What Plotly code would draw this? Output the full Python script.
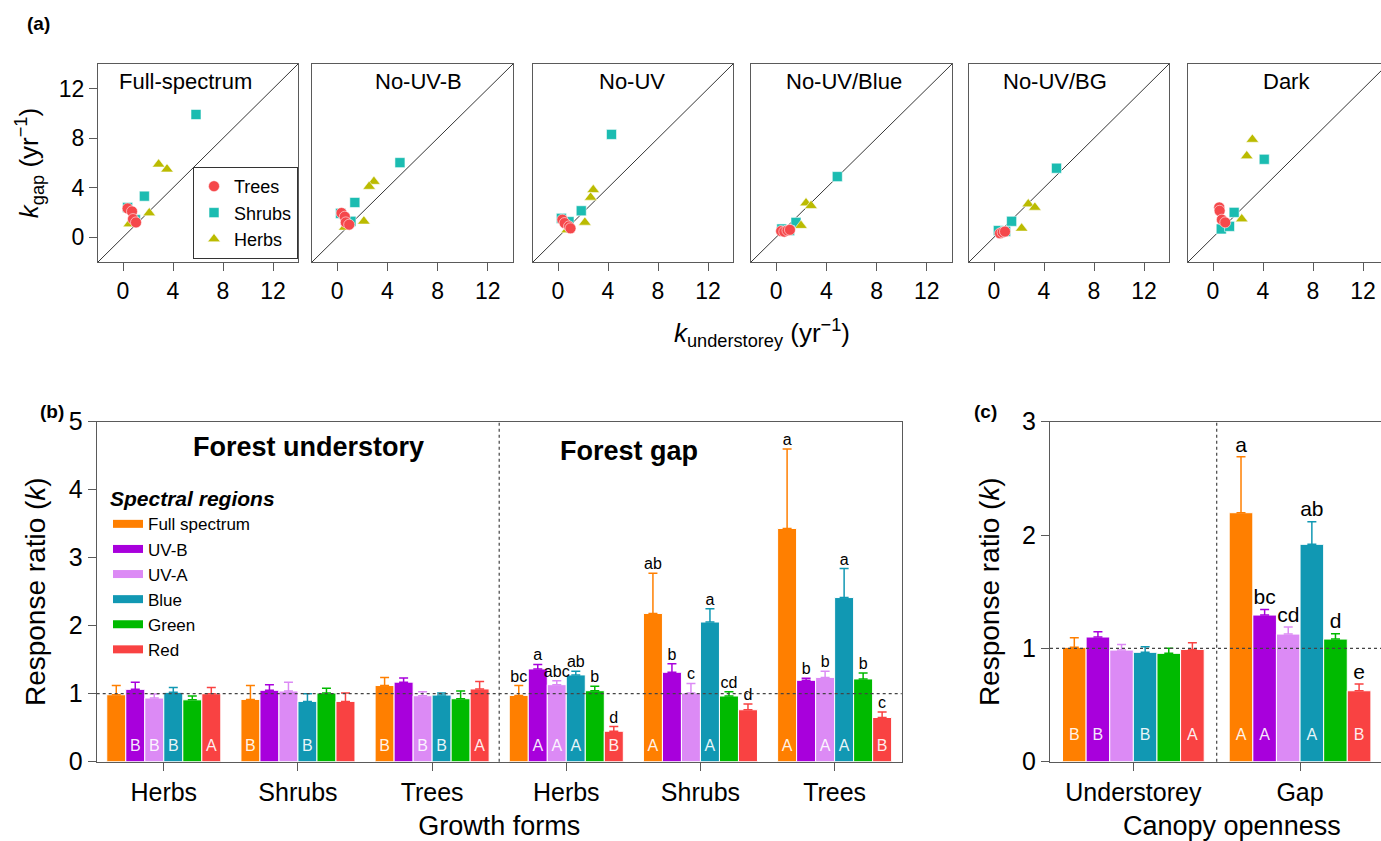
import plotly.graph_objects as go

W, H = 1381, 841
FONT = "Liberation Sans, Arial, sans-serif"

# ---------------- Panel (a) data: decomposition constants k (yr^-1) ----------------
TREATMENTS = ["Full-spectrum", "No-UV-B", "No-UV", "No-UV/Blue", "No-UV/BG", "Dark"]

trees_under = [[0.37, 0.72, 0.80, 1.04], [0.35, 0.61, 0.69, 0.96], [0.35, 0.53, 0.88, 1.00],
               [0.40, 0.65, 0.90, 1.10], [0.48, 0.69, 0.88], [0.50, 0.53, 0.71, 0.98]]
trees_gap = [[2.33, 2.09, 1.47, 1.20], [1.96, 1.66, 1.20, 1.02], [1.42, 1.15, 0.88, 0.72],
             [0.50, 0.45, 0.55, 0.60], [0.32, 0.40, 0.46], [2.41, 2.14, 1.42, 1.20]]
shrubs_under = [[5.84, 1.71, 0.37, 0.99], [5.00, 1.41, 0.27, 1.10], [4.28, 1.86, 0.27, 0.88],
                [4.87, 1.58, 0.45, 1.07], [5.00, 1.41, 0.35, 0.93], [4.10, 1.69, 0.66, 1.32]]
shrubs_gap = [[9.92, 3.32, 2.41, 1.42], [6.03, 2.81, 1.93, 1.29], [8.31, 2.14, 1.53, 1.26],
              [4.90, 1.20, 0.67, 0.54], [5.58, 1.29, 0.54, 0.48], [6.30, 2.01, 0.67, 0.88]]
herbs_under = [[2.85, 3.52, 2.10, 0.50], [2.93, 2.55, 2.13, 0.61], [2.82, 2.61, 2.15, 0.74],
               [2.38, 2.78, 1.98], [2.74, 3.27, 2.21], [3.15, 2.70, 2.30]]
herbs_gap = [[5.90, 5.50, 1.96, 1.07], [4.50, 4.10, 1.29, 0.80], [3.83, 3.22, 1.20, 0.59],
             [2.76, 2.55, 0.94], [2.68, 2.41, 0.72], [7.90, 6.57, 1.47]]
A_TICKS = [0, 4, 8, 12]
title_pos_x = [5.0, 6.5, 5.9, 5.4, 4.9, 5.9]

# ---------------- Panel (b) data: response ratios by growth form ----------------
GROWTH_FORMS = ["Herbs", "Shrubs", "Trees", "Herbs", "Shrubs", "Trees"]
REGIONS = ["Full spectrum", "UV-B", "UV-A", "Blue", "Green", "Red"]
COLORS = ["#FF7F00", "#A800DC", "#DC8AF5", "#1198B3", "#00BA00", "#F94242"]

b_full = [0.985, 0.916, 1.12, 0.975, 2.18, 3.43]
b_uvb = [1.064, 1.05, 1.17, 1.364, 1.315, 1.197]
b_uva = [0.936, 1.04, 0.97, 1.133, 1.01, 1.24]
b_blue = [1.02, 0.887, 0.98, 1.276, 2.054, 2.414]
b_green = [0.91, 1.01, 0.926, 1.044, 0.966, 1.217]
b_red = [1.0, 0.887, 1.07, 0.448, 0.764, 0.65]

b_full_up = [1.12, 1.12, 1.24, 1.12, 2.77, 4.60]
b_uvb_up = [1.17, 1.13, 1.23, 1.43, 1.44, 1.227]
b_uva_up = [0.995, 1.17, 1.03, 1.19, 1.15, 1.33]
b_blue_up = [1.09, 1.0, 1.01, 1.33, 2.25, 2.84]
b_green_up = [0.965, 1.08, 1.04, 1.11, 1.03, 1.305]
b_red_up = [1.09, 1.01, 1.18, 0.517, 0.847, 0.73]

b_letters = [["", "", "", "bc", "ab", "a"], ["", "", "", "a", "b", "b"],
             ["", "", "", "abc", "c", "b"], ["", "", "", "ab", "a", "a"],
             ["", "", "", "b", "cd", "b"], ["", "", "", "d", "d", "c"]]
b_inside = [["", "B", "B", "", "A", "A"], ["B", "", "", "A", "", ""],
            ["B", "", "B", "A", "", "A"], ["B", "B", "B", "A", "A", "A"],
            ["", "", "", "", "", ""], ["A", "", "A", "B", "", "B"]]

# ---------------- Panel (c) data: response ratios by canopy openness ----------------
CANOPY = ["Understorey", "Gap"]
c_full = [1.009, 2.197]
c_uvb = [1.10, 1.294]
c_uva = [0.985, 1.126]
c_blue = [0.965, 1.918]
c_green = [0.956, 1.082]
c_red = [0.991, 0.626]

c_full_up = [1.094, 2.69]
c_uvb_up = [1.147, 1.344]
c_uva_up = [1.035, 1.188]
c_blue_up = [1.015, 2.118]
c_green_up = [1.0, 1.129]
c_red_up = [1.05, 0.685]

c_letters = [["", "a"], ["", "bc"], ["", "cd"], ["", "ab"], ["", "d"], ["", "e"]]
c_inside = [["B", "A"], ["B", "A"], ["", ""], ["B", "A"], ["", ""], ["A", "B"]]

b_means = [b_full, b_uvb, b_uva, b_blue, b_green, b_red]
b_uppers = [b_full_up, b_uvb_up, b_uva_up, b_blue_up, b_green_up, b_red_up]
c_means = [c_full, c_uvb, c_uva, c_blue, c_green, c_red]
c_uppers = [c_full_up, c_uvb_up, c_uva_up, c_blue_up, c_green_up, c_red_up]

BARGAP = 0.15


def fx(p):
    return p / W


def fy(p):
    return 1 - p / H


fig = go.Figure()
layout = dict(template="none", width=W, height=H,
              margin=dict(l=0, r=0, t=0, b=0, autoexpand=False),
              paper_bgcolor="white", plot_bgcolor="white",
              font=dict(family=FONT, color="black"),
              barmode="group", bargap=BARGAP, bargroupgap=0)

AX_LINE = "#5a5a5a"


def base_axis(**kw):
    d = dict(showline=True, linecolor=AX_LINE, linewidth=1.2, mirror=True,
             ticks="outside", ticklen=8, tickcolor=AX_LINE, tickwidth=1.2,
             showgrid=False, zeroline=False, automargin=False, tickfont=dict(size=23))
    d.update(kw)
    return d


# ---------------- Panel (a) ----------------
a_dom_x = [(98, 298), (312, 513), (533, 733), (751, 952), (969, 1169), (1188, 1381)]
a_dom_y = (64, 262)
shapes = []
annotations = []
groups_a = [
    ("Shrubs", shrubs_under, shrubs_gap, "square", 10, "#1BBCB1", 2),
    ("Herbs", herbs_under, herbs_gap, "triangle-up", 11, "#BBBB00", 3),
    ("Trees", trees_under, trees_gap, "circle", 11, "#F5484B", 1),
]
for i, tname in enumerate(TREATMENTS):
    n = i + 1
    xa = "x" if n == 1 else f"x{n}"
    ya = "y" if n == 1 else f"y{n}"
    xkey = "xaxis" if n == 1 else f"xaxis{n}"
    ykey = "yaxis" if n == 1 else f"yaxis{n}"
    x0p, x1p = a_dom_x[i]
    xmax = -2 + (x1p - x0p) / 12.5
    layout[xkey] = base_axis(domain=[fx(x0p), fx(x1p)], anchor=ya, range=[-2, min(14, xmax)],
                             tickvals=A_TICKS)
    yax = base_axis(domain=[fy(a_dom_y[1]), fy(a_dom_y[0])], anchor=xa, range=[-2, 14],
                    tickvals=A_TICKS, mirror=(n != 6))
    if n == 1:
        yax["title"] = dict(text="<i>k</i><sub>gap</sub> (yr<sup>−1</sup>)",
                            font=dict(size=26), standoff=12)
    else:
        yax["showticklabels"] = False
        yax["ticks"] = ""
    layout[ykey] = yax
    shapes.append(dict(type="line", xref=xa, yref=ya, x0=-2, y0=-2, x1=14, y1=14,
                       line=dict(color="black", width=0.8), layer="below"))
    annotations.append(dict(text=tname, xref=xa, yref=ya, x=title_pos_x[i], y=12.6,
                            showarrow=False, font=dict(size=22), xanchor="center",
                            yanchor="middle"))
    for gname, gu, gg, sym, size, col, rank in groups_a:
        fig.add_trace(go.Scatter(
            x=gu[i], y=gg[i], mode="markers", name=gname, xaxis=xa, yaxis=ya,
            marker=dict(symbol=sym, size=size, color=col,
                        line=dict(color="rgba(255,255,255,0.55)", width=1)),
            legend="legend", legendrank=rank, showlegend=(n == 1), legendgroup=gname))

annotations.append(dict(text="<i>k</i><sub>understorey</sub> (yr<sup>−1</sup>)",
                        xref="paper", yref="paper", x=fx(762), y=fy(333), showarrow=False,
                        font=dict(size=26), xanchor="center", yanchor="middle"))

# ---------------- Panel (b) & (c) ----------------
panel_specs = [
    ("x7", "y7", GROWTH_FORMS, b_means, b_uppers, b_letters, b_inside, 0.21, 16),
    ("x8", "y8", CANOPY, c_means, c_uppers, c_letters, c_inside, 0.227, 21),
]
bar_w = (1 - BARGAP) / len(REGIONS)
for (xa, ya, cats, means, uppers, letters, inside, in_y, let_size) in panel_specs:
    ng = len(cats)
    xs = list(range(ng))
    for k, reg in enumerate(REGIONS):
        m = means[k]
        u = uppers[k]
        fig.add_trace(go.Bar(
            x=xs, y=m, name=reg, xaxis=xa, yaxis=ya, marker=dict(color=COLORS[k],
            line=dict(color="white", width=1)), showlegend=False, legendgroup=reg,
            error_y=dict(type="data", symmetric=False, array=[a - b for a, b in zip(u, m)],
                         arrayminus=[0] * ng, color=COLORS[k], thickness=1.5, width=4.5)))
        offs = [g + (k - (len(REGIONS) - 1) / 2) * bar_w for g in xs]
        top_idx = [j for j in xs if letters[k][j]]
        if top_idx:
            fig.add_trace(go.Scatter(
                x=[offs[j] for j in top_idx], y=[u[j] for j in top_idx],
                text=[letters[k][j] for j in top_idx], mode="text", textposition="top center",
                textfont=dict(size=let_size, color="black"), xaxis=xa, yaxis=ya,
                showlegend=False, hoverinfo="skip", cliponaxis=False))
        in_idx = [j for j in xs if inside[k][j]]
        if in_idx:
            fig.add_trace(go.Scatter(
                x=[offs[j] for j in in_idx], y=[in_y] * len(in_idx),
                text=[inside[k][j] for j in in_idx], mode="text", textposition="middle center",
                textfont=dict(size=16, color="rgba(255,255,255,0.92)"), xaxis=xa, yaxis=ya,
                showlegend=False, hoverinfo="skip"))
    # reference line at ratio 1 and divider between canopy conditions
    shapes.append(dict(type="line", xref=f"{xa} domain", yref=ya, x0=0, x1=1, y0=1, y1=1,
                       line=dict(color="#444", width=1.2, dash="dot")))
    shapes.append(dict(type="line", xref=xa, yref=f"{ya} domain", x0=(ng - 1) / 2,
                       x1=(ng - 1) / 2, y0=0, y1=1,
                       line=dict(color="#444", width=1.2, dash="dot")))

# legend entries for spectral regions
for k, reg in enumerate(REGIONS):
    fig.add_trace(go.Scatter(x=[None], y=[None], mode="lines", name=reg, xaxis="x7", yaxis="y7",
                             line=dict(color=COLORS[k], width=8), legend="legend2",
                             legendgroup=reg, showlegend=True))

layout["xaxis7"] = base_axis(domain=[fx(96.7), fx(901.7)], anchor="y7", range=[-0.5, 5.5],
                             tickvals=list(range(6)), ticktext=GROWTH_FORMS,
                             tickfont=dict(size=25),
                             title=dict(text="Growth forms", font=dict(size=27), standoff=14))
layout["yaxis7"] = base_axis(domain=[fy(761.7), fy(421.7)], anchor="x7", range=[0, 5],
                             tickvals=[0, 1, 2, 3, 4, 5], tickfont=dict(size=25),
                             title=dict(text="Response ratio (<i>k</i>)", font=dict(size=28),
                                        standoff=14))
c_right = -0.5 + (1381 - 1050) / 166.7
layout["xaxis8"] = base_axis(domain=[fx(1050), 1.0], anchor="y8", range=[-0.5, c_right],
                             tickvals=[0, 1], ticktext=CANOPY, tickfont=dict(size=25))
layout["yaxis8"] = base_axis(domain=[fy(761.7), fy(421.7)], anchor="x8", range=[0, 3],
                             tickvals=[0, 1, 2, 3], tickfont=dict(size=25), mirror=False,
                             title=dict(text="Response ratio (<i>k</i>)", font=dict(size=28),
                                        standoff=14))

annotations += [
    dict(text="Canopy openness", xref="paper", yref="paper", x=fx(1232), y=fy(826),
         showarrow=False, font=dict(size=27), xanchor="center", yanchor="middle"),
    dict(text="<b>Forest understory</b>", xref="x7", yref="y7", x=1.08, y=4.63,
         showarrow=False, font=dict(size=27), xanchor="center", yanchor="middle"),
    dict(text="<b>Forest gap</b>", xref="x7", yref="y7", x=3.47, y=4.57,
         showarrow=False, font=dict(size=27), xanchor="center", yanchor="middle"),
    dict(text="<b>(a)</b>", xref="paper", yref="paper", x=fx(38), y=fy(23),
         showarrow=False, font=dict(size=19), xanchor="center", yanchor="middle"),
    dict(text="<b>(b)</b>", xref="paper", yref="paper", x=fx(52), y=fy(411),
         showarrow=False, font=dict(size=19), xanchor="center", yanchor="middle"),
    dict(text="<b>(c)</b>", xref="paper", yref="paper", x=fx(985), y=fy(411),
         showarrow=False, font=dict(size=19), xanchor="center", yanchor="middle"),
]

layout["legend"] = dict(x=fx(193), y=fy(259), xanchor="left", yanchor="bottom",
                        bordercolor="#333", borderwidth=1, bgcolor="white",
                        font=dict(size=18), itemwidth=30, tracegroupgap=0)
layout["legend2"] = dict(x=fx(108), y=fy(479), xanchor="left", yanchor="top",
                         bgcolor="rgba(0,0,0,0)", borderwidth=0,
                         title=dict(text="<b><i>Spectral regions</i></b>", font=dict(size=21)),
                         font=dict(size=17), itemwidth=30, tracegroupgap=0)
layout["shapes"] = shapes
layout["annotations"] = annotations
fig.update_layout(**layout)
fig.write_html("out.html")
